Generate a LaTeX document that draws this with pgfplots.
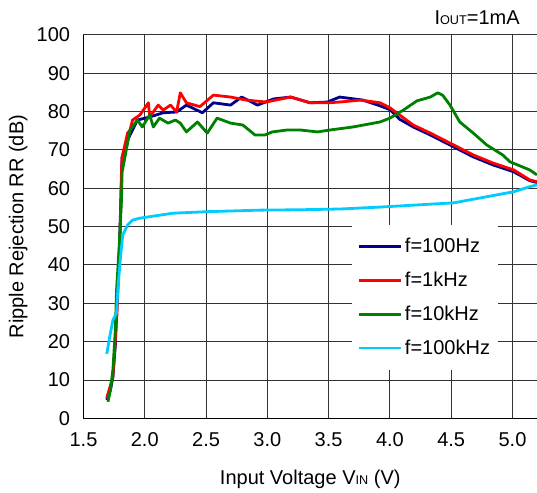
\documentclass[border=0pt]{standalone}
\usepackage{pgfplots}
\pgfplotsset{compat=1.18}
\usepackage{fontspec}
\setmainfont{Liberation Sans}
\definecolor{cblue}{RGB}{0,0,140}
\definecolor{cred}{RGB}{255,0,0}
\definecolor{cgreen}{RGB}{0,128,0}
\definecolor{ccyan}{RGB}{0,204,255}
\newcommand{\fs}{\fontsize{15}{18}\selectfont}
\newcommand{\sm}{\fontsize{9.5}{11}\selectfont}
\begin{document}
\begin{tikzpicture}
\begin{axis}[
  at={(0pt,0pt)}, anchor=south west,
  scale only axis, width=340.1pt, height=287.5pt,
  xmin=1.5, xmax=5.2, ymin=0, ymax=100,
  axis x line*=bottom, axis y line*=left,
  axis line style={black, line width=1pt},
  grid=major, major grid style={black!80, line width=0.7pt},
  major tick length=0pt,
  xtick={1.5,2.0,2.5,3.0,3.5,4.0,4.5,5.0},
  ytick={0,10,...,100},
  /pgf/number format/assume math mode=true,
  tick label style={font=\fs},
  yticklabel style={xshift=-6.5pt},
  xticklabel style={/pgf/number format/fixed, /pgf/number format/fixed zerofill, /pgf/number format/precision=1, yshift=-7.5pt},
  label style={font=\fs},
  xlabel={Input Voltage V{\sm IN} (V)},
  ylabel={Ripple Rejection RR (dB)},
  xlabel style={at={(axis description cs:0.5,-0.158)}, anchor=center},
  ylabel style={at={(axis description cs:-0.144,0.5)}, anchor=center},
  every axis plot/.append style={line width=2.1pt, line join=round},
  legend style={at={(axis cs:3.69,50.5)}, anchor=north west, draw=none, fill=white,
    font=\fs, inner xsep=4pt, inner ysep=8pt, row sep=9pt},
  legend cell align=left,
  legend image code/.code={\draw[#1] (0pt,0pt) -- (31.5pt,0pt);},
]
\addplot[cblue] coordinates {
(1.69,4.8)(1.72,7.4)(1.74,10.8)(1.76,19.1)(1.77,28.3)(1.79,41.3)(1.80,51.7)(1.81,62.1)(1.815,68.1)
(1.86,72.6)(1.94,77.8)(2.04,78.6)(2.15,79.7)(2.26,79.9)(2.34,81.7)(2.47,79.7)(2.56,82.3)
(2.70,81.7)(2.79,83.8)(2.92,81.7)(3.05,83.3)(3.19,83.8)(3.35,82.3)(3.49,82.5)(3.59,83.8)
(3.78,83.0)(3.92,81.5)(4.00,80.5)(4.08,78.0)(4.19,76.0)(4.33,73.9)(4.52,70.8)(4.68,68.2)
(4.84,66.1)(5.01,64.3)(5.14,62.0)(5.20,61.5)};
\addlegendentry{f=100Hz}
\addplot[cred] coordinates {
(1.69,5.3)(1.74,10.8)(1.765,23.0)(1.775,28.3)(1.80,49.1)(1.81,64.7)(1.815,68.1)
(1.86,74.4)(1.88,75.2)(1.90,77.8)(1.96,79.1)(2.03,82.3)(2.04,78.6)(2.11,81.7)(2.15,80.4)
(2.21,81.7)(2.26,79.9)(2.29,84.9)(2.34,82.3)(2.45,81.3)(2.56,84.3)(2.70,83.8)(2.83,83.0)
(2.99,82.5)(3.19,83.8)(3.35,82.3)(3.50,82.3)(3.59,82.5)(3.76,83.0)(3.92,82.3)(4.00,81.0)
(4.08,79.1)(4.19,76.5)(4.33,74.4)(4.52,71.3)(4.68,68.7)(4.84,66.6)(5.01,64.8)(5.14,62.2)(5.20,61.7)};
\addlegendentry{f=1kHz}
\addplot[cgreen] coordinates {
(1.70,4.3)(1.72,7.4)(1.74,12.6)(1.76,23.0)(1.77,33.5)(1.79,43.9)(1.81,56.9)(1.815,64.2)
(1.86,71.8)(1.88,75.2)(1.94,77.8)(1.98,76.0)(2.04,79.1)(2.07,76.0)(2.12,78.3)(2.19,77.0)
(2.25,77.8)(2.29,77.0)(2.34,74.7)(2.43,77.3)(2.51,74.4)(2.59,78.3)(2.70,77.0)(2.80,76.5)
(2.90,73.9)(2.98,73.9)(3.04,74.7)(3.16,75.2)(3.27,75.2)(3.41,74.7)(3.51,75.2)(3.70,76.0)
(3.92,77.3)(4.00,78.3)(4.11,80.4)(4.22,82.8)(4.33,83.8)(4.39,84.9)(4.43,84.3)(4.49,81.7)
(4.57,77.3)(4.68,74.4)(4.79,71.3)(4.92,68.7)(4.98,66.9)(5.14,64.8)(5.20,63.5)};
\addlegendentry{f=10kHz}
\addplot[ccyan] coordinates {
(1.69,16.8)(1.72,22.3)(1.74,25.6)(1.77,27.5)(1.78,33.5)(1.80,41.3)(1.82,47.8)(1.86,50.4)
(1.90,51.7)(1.96,52.2)(2.02,52.5)(2.23,53.5)(2.51,53.9)(2.94,54.3)(3.27,54.4)(3.60,54.6)
(3.92,55.1)(4.30,55.8)(4.52,56.2)(4.74,57.5)(5.01,59.1)(5.14,60.4)(5.20,60.9)};
\addlegendentry{f=100kHz}
\end{axis}
\node[anchor=base east, font=\fs, inner sep=0pt] at (327.3pt,295pt) {I{\sm OUT}=1mA};
\pgfresetboundingbox
\path[use as bounding box] (-62.6pt,-55.3pt) rectangle (340.1pt,313.7pt);
\end{tikzpicture}
\end{document}
